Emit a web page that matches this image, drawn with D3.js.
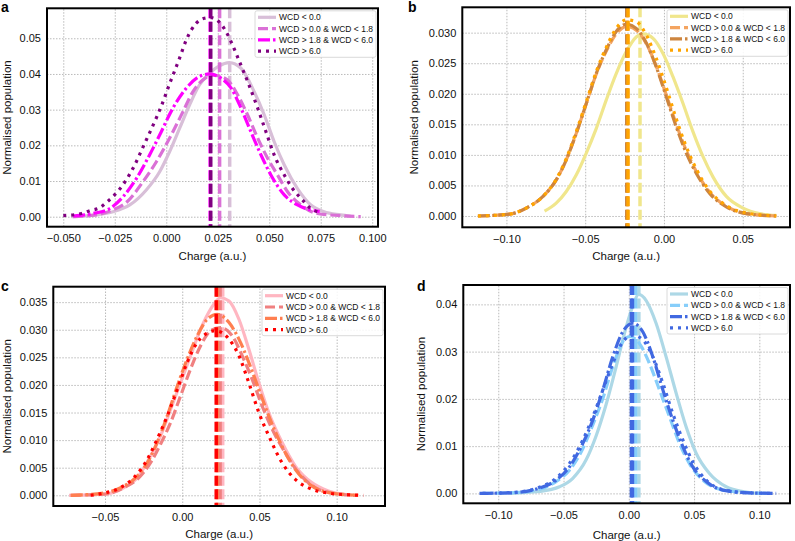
<!DOCTYPE html>
<html><head><meta charset="utf-8">
<script src="https://cdn.jsdelivr.net/npm/d3@7"></script>
<style>body{margin:0;background:#fff}svg{display:block;font-family:"Liberation Sans",Arial,Helvetica,sans-serif}</style>
</head><body><svg id="chart" width="795" height="541"></svg>
<script>
// ---------- DATA ----------
const seriesLabels = ["WCD < 0.0", "WCD > 0.0 & WCD < 1.8", "WCD > 1.8 & WCD < 6.0", "WCD > 6.0"];
const panelLetters = ["a", "b", "c", "d"];

// Panel a
const a_lt0 = [[-0.046,0],[-0.034,0.0005],[-0.0258,0.0014],[-0.0177,0.0033],[-0.0097,0.0075],[-0.0032,0.0126],[0.0016,0.0182],[0.0065,0.0248],[0.0113,0.0313],[0.0161,0.0369],[0.021,0.0402],[0.0255,0.0422],[0.0306,0.0432],[0.0363,0.0416],[0.0427,0.035],[0.0476,0.0285],[0.0524,0.021],[0.0573,0.0145],[0.0637,0.0079],[0.0702,0.0033],[0.0766,0.0014],[0.0847,0.0005],[0.0895,0.0001]];
const a_0to18 = [[-0.0452,0],[-0.034,0.0005],[-0.026,0.0019],[-0.019,0.0042],[-0.0113,0.0098],[-0.0048,0.0154],[0.0016,0.022],[0.0081,0.0294],[0.0129,0.035],[0.0177,0.0383],[0.0226,0.0397],[0.025,0.0395],[0.0298,0.0383],[0.0347,0.0341],[0.0395,0.0285],[0.0444,0.022],[0.0492,0.0164],[0.054,0.0117],[0.0589,0.007],[0.0653,0.0033],[0.0734,0.0009],[0.0847,0.0003],[0.0944,0]];
const a_18to6 = [[-0.0452,0.0002],[-0.0355,0.0009],[-0.0274,0.0023],[-0.021,0.0056],[-0.0145,0.0107],[-0.0081,0.0173],[-0.0032,0.0229],[0.0032,0.0304],[0.0097,0.036],[0.0161,0.0393],[0.021,0.04],[0.0266,0.0388],[0.0315,0.036],[0.0363,0.0304],[0.0411,0.0238],[0.046,0.0173],[0.0508,0.0117],[0.0573,0.0061],[0.0637,0.0033],[0.0702,0.0019],[0.0745,0.0015]];
const a_gt6 = [[-0.05,0.0003],[-0.0411,0.0009],[-0.037,0.0017],[-0.032,0.0026],[-0.029,0.004],[-0.024,0.0068],[-0.02,0.0098],[-0.0153,0.0145],[-0.0113,0.0195],[-0.0065,0.0255],[-0.0024,0.031],[0.0016,0.0372],[0.0065,0.0445],[0.0097,0.0495],[0.0145,0.0542],[0.0185,0.0556],[0.0218,0.0558],[0.029,0.0519],[0.0315,0.049],[0.0355,0.0435],[0.0395,0.0379],[0.0444,0.0304],[0.0484,0.0238],[0.0524,0.0173],[0.0573,0.0117],[0.0613,0.0079],[0.0661,0.0047],[0.0702,0.0023],[0.0745,0.0012]];
const a_means = [0.0308, 0.0259, 0.0213, 0.0216];
const a_xTicks = [-0.05, -0.025, 0, 0.025, 0.05, 0.075, 0.1];
const a_yTicks = [0, 0.01, 0.02, 0.03, 0.04, 0.05];

// Panel b
const b_lt0 = [[-0.0758,0.0008],[-0.0684,0.0021],[-0.062,0.004],[-0.0557,0.0067],[-0.0493,0.0103],[-0.043,0.0143],[-0.0366,0.019],[-0.0303,0.0233],[-0.0239,0.0269],[-0.0176,0.0293],[-0.0135,0.0298],[-0.007,0.0291],[-0.0006,0.0266],[0.0057,0.0228],[0.0121,0.0184],[0.0184,0.0138],[0.0248,0.0097],[0.0311,0.0064],[0.0396,0.0032],[0.0502,0.0013],[0.0607,0.0004],[0.0713,0.0001]];
const b_0to18 = [[-0.118,0],[-0.098,0.0003],[-0.0874,0.0013],[-0.0768,0.0032],[-0.0684,0.0059],[-0.062,0.0092],[-0.0557,0.0135],[-0.0493,0.0184],[-0.043,0.0232],[-0.0366,0.027],[-0.0303,0.0298],[-0.0239,0.031],[-0.0176,0.0304],[-0.0112,0.0282],[-0.0049,0.0245],[0.0015,0.0198],[0.0078,0.015],[0.0142,0.0107],[0.0205,0.0073],[0.029,0.0039],[0.0396,0.0016],[0.0523,0.0004],[0.0713,0]];
const b_18to6 = [[-0.1181,0],[-0.098,0.0003],[-0.0874,0.0013],[-0.0768,0.0032],[-0.0684,0.0059],[-0.062,0.0092],[-0.0557,0.0135],[-0.0493,0.0184],[-0.043,0.0233],[-0.0366,0.0272],[-0.0303,0.0302],[-0.0239,0.0314],[-0.0176,0.0307],[-0.0112,0.0283],[-0.0049,0.0244],[0.0015,0.0195],[0.0078,0.0146],[0.0142,0.0103],[0.0205,0.007],[0.029,0.0037],[0.0396,0.0015],[0.0523,0.0004],[0.0713,0]];
const b_gt6 = [[-0.1181,0],[-0.098,0.0003],[-0.0874,0.0013],[-0.0768,0.0032],[-0.0684,0.006],[-0.062,0.0094],[-0.0557,0.0138],[-0.0493,0.0187],[-0.043,0.0236],[-0.0366,0.0276],[-0.0303,0.0307],[-0.0239,0.0321],[-0.0176,0.0318],[-0.0112,0.0296],[-0.0049,0.0258],[0.0015,0.021],[0.0078,0.0159],[0.0142,0.0113],[0.0205,0.0077],[0.029,0.0041],[0.0396,0.0017],[0.0523,0.0005],[0.0713,0]];
const b_means = [-0.0152, -0.0232, -0.0236, -0.0228];
const b_xTicks = [-0.1, -0.05, 0, 0.05];
const b_yTicks = [0, 0.005, 0.01, 0.015, 0.02, 0.025, 0.03];

// Panel c
const c_lt0 = [[-0.0733,0],[-0.0506,0.0002],[-0.0377,0.0014],[-0.0291,0.0032],[-0.0205,0.0071],[-0.014,0.0108],[-0.0075,0.0156],[-0.0011,0.0204],[0.0054,0.0253],[0.0119,0.0301],[0.0183,0.0337],[0.0248,0.0358],[0.0303,0.0352],[0.0367,0.0319],[0.0431,0.0265],[0.0496,0.0204],[0.056,0.015],[0.0646,0.0096],[0.0732,0.0053],[0.0839,0.0023],[0.0946,0.0008],[0.1032,0.0002],[0.11,0]];
const c_0to18 = [[-0.0722,0],[-0.0506,0.0002],[-0.0377,0.0014],[-0.0291,0.0029],[-0.0205,0.0059],[-0.014,0.0093],[-0.0075,0.0132],[-0.0011,0.018],[0.0054,0.0229],[0.0119,0.0271],[0.0183,0.0298],[0.0248,0.0304],[0.0324,0.0289],[0.0388,0.0253],[0.0453,0.021],[0.0517,0.0162],[0.0582,0.012],[0.0667,0.0077],[0.0753,0.0041],[0.086,0.0014],[0.0968,0.0004],[0.1118,0]];
const c_18to6 = [[-0.0722,0],[-0.0506,0.0004],[-0.0399,0.0014],[-0.0313,0.0029],[-0.0226,0.0059],[-0.0162,0.0096],[-0.0097,0.0144],[-0.0032,0.0198],[0.0032,0.0247],[0.0097,0.0289],[0.0162,0.0319],[0.0226,0.0328],[0.0303,0.0313],[0.0367,0.0283],[0.0431,0.0241],[0.0496,0.0192],[0.056,0.0144],[0.0646,0.0089],[0.0732,0.0047],[0.0839,0.0017],[0.0946,0.0005],[0.1075,0.0001],[0.114,0]];
const c_gt6 = [[-0.0593,0],[-0.0506,0.0004],[-0.0399,0.0014],[-0.0313,0.0032],[-0.0226,0.0065],[-0.0162,0.0102],[-0.0097,0.0144],[-0.0032,0.0192],[0.0032,0.0241],[0.0097,0.0277],[0.0162,0.0294],[0.0205,0.0298],[0.0238,0.0297],[0.0303,0.0283],[0.0367,0.0253],[0.0431,0.0204],[0.0496,0.015],[0.056,0.0108],[0.0646,0.0059],[0.0732,0.0029],[0.0839,0.0011],[0.0946,0.0004],[0.1075,0.0001],[0.1172,0]];
const c_means = [0.0262, 0.0245, 0.0228, 0.022];
const c_xTicks = [-0.05, 0, 0.05, 0.1];
const c_yTicks = [0, 0.005, 0.01, 0.015, 0.02, 0.025, 0.03, 0.035];

// Panel d
const d_lt0 = [[-0.0914,0],[-0.0685,0.0004],[-0.0531,0.0014],[-0.0429,0.0032],[-0.0327,0.0071],[-0.025,0.0122],[-0.0174,0.0188],[-0.0097,0.0268],[-0.002,0.0352],[0.0031,0.0397],[0.0075,0.0421],[0.0133,0.0408],[0.0209,0.036],[0.0286,0.0289],[0.0363,0.0212],[0.0439,0.0141],[0.0516,0.0085],[0.0618,0.0042],[0.0746,0.0014],[0.0874,0.0004],[0.1001,0]];
const d_0to18 = [[-0.112,0],[-0.0914,0.0001],[-0.0685,0.0009],[-0.0557,0.0025],[-0.0455,0.0049],[-0.0352,0.0095],[-0.0276,0.0145],[-0.0199,0.0201],[-0.0123,0.0268],[-0.0046,0.0321],[0.0005,0.0332],[0.0082,0.0317],[0.0158,0.0275],[0.0235,0.0219],[0.0312,0.0162],[0.0388,0.0106],[0.0465,0.0063],[0.0567,0.0028],[0.0695,0.0009],[0.0874,0.0002],[0.1052,0]];
const d_18to6 = [[-0.1144,0],[-0.0914,0.0001],[-0.0685,0.0011],[-0.0557,0.0028],[-0.0455,0.0056],[-0.0352,0.0106],[-0.0276,0.0155],[-0.0199,0.0219],[-0.0123,0.0289],[-0.0046,0.0342],[0.0031,0.036],[0.0107,0.0342],[0.0184,0.0289],[0.0261,0.0219],[0.0337,0.0155],[0.0414,0.0099],[0.049,0.0056],[0.0593,0.0025],[0.072,0.0007],[0.0925,0.0001],[0.1129,0]];
const d_gt6 = [[-0.112,0],[-0.0889,0.0002],[-0.0685,0.0013],[-0.0557,0.0032],[-0.0455,0.0063],[-0.0352,0.0113],[-0.0276,0.0162],[-0.0199,0.0219],[-0.0123,0.0275],[-0.0046,0.0321],[0.0031,0.0335],[0.0107,0.0325],[0.0184,0.0289],[0.0261,0.0233],[0.0337,0.0169],[0.0414,0.0113],[0.049,0.0067],[0.0593,0.0028],[0.072,0.0008],[0.0925,0.0001],[0.1116,0]];
const d_means = [0.0077, 0.0052, 0.0028, 0.002];
const d_xTicks = [-0.1, -0.05, 0, 0.05, 0.1];
const d_yTicks = [0, 0.01, 0.02, 0.03, 0.04];

// ---------- STYLE / LAYOUT ----------
const colorsA = ["#d8bfd8", "#da70d6", "#ff00ff", "#800080"];
const colorsB = ["#f0e68c", "#f4a460", "#cd853f", "#ffa500"];
const colorsC = ["#ffb6c1", "#f08080", "#ff7f50", "#ff0000"];
const colorsD = ["#add8e6", "#87cefa", "#4169e1", "#4169e1"];
const dashes = [null, "10,4", "12,3,2.5,3", "3,5"];

const panels = [
  {series:[a_lt0,a_0to18,a_18to6,a_gt6], means:a_means, xt:a_xTicks, yt:a_yTicks, colors:colorsA,
   box:[47,378,8.3,226.7], xd:[-0.0579,0.1028], yd:[-0.0028,0.0584], xf:".3f", yf:".2f",
   letter:[1,12], ylab:6.5, xlab:256},
  {series:[b_lt0,b_0to18,b_18to6,b_gt6], means:b_means, xt:b_xTicks, yt:b_yTicks, colors:colorsB,
   box:[462.3,790,7.3,227.3], xd:[-0.128,0.080], yd:[-0.00185,0.03415], xf:".2f", yf:".3f",
   letter:[408,12], ylab:413.5, xlab:256},
  {series:[c_lt0,c_0to18,c_18to6,c_gt6], means:c_means, xt:c_xTicks, yt:c_yTicks, colors:colorsC,
   box:[53.3,385,286.7,506], xd:[-0.0835,0.1313], yd:[-0.00194,0.0378], xf:".2f", yf:".3f",
   letter:[1,291], ylab:6.5, xlab:533.5},
  {series:[d_lt0,d_0to18,d_18to6,d_gt6], means:d_means, xt:d_xTicks, yt:d_yTicks, colors:colorsD,
   box:[463.3,790,285,503.3], xd:[-0.1268,0.1235], yd:[-0.0021,0.0441], xf:".2f", yf:".2f",
   letter:[417,291], ylab:421, xlab:535}
];

const svg = d3.select("#chart");
svg.append("rect").attr("width",795).attr("height",541).attr("fill","#fff");

panels.forEach((p, pi) => {
  const [x0,x1,y0,y1] = p.box;
  const x = d3.scaleLinear().domain(p.xd).range([x0,x1]);
  const y = d3.scaleLinear().domain(p.yd).range([y1,y0]);
  const g = svg.append("g");

  g.append("rect").attr("x",x0).attr("y",y0).attr("width",x1-x0).attr("height",y1-y0).attr("fill","#fff");

  // grid
  const gx = g.append("g").attr("transform",`translate(0,${y1})`)
    .call(d3.axisBottom(x).tickValues(p.xt).tickSize(-(y1-y0)).tickFormat(""));
  const gy = g.append("g").attr("transform",`translate(${x0},0)`)
    .call(d3.axisLeft(y).tickValues(p.yt).tickSize(-(x1-x0)).tickFormat(""));
  [gx,gy].forEach(s => {
    s.select(".domain").remove();
    s.selectAll("line").attr("stroke","#a8a8a8").attr("stroke-width",0.8).attr("stroke-dasharray","1.5,1.5");
  });

  // tick labels
  const lx = g.append("g").attr("transform",`translate(0,${y1})`)
    .call(d3.axisBottom(x).tickValues(p.xt).tickSize(0).tickPadding(7.5).tickFormat(d3.format(p.xf)));
  const ly = g.append("g").attr("transform",`translate(${x0},0)`)
    .call(d3.axisLeft(y).tickValues(p.yt).tickSize(0).tickPadding(6).tickFormat(d3.format(p.yf)));
  [lx,ly].forEach(s => {
    s.select(".domain").remove();
    s.selectAll("text").attr("font-size",11).attr("fill","#111").attr("font-family","'Liberation Sans',Arial,sans-serif");
  });

  // clip
  const cid = "clip"+pi;
  svg.append("clipPath").attr("id",cid).append("rect")
    .attr("x",x0).attr("y",y0).attr("width",x1-x0).attr("height",y1-y0);
  const plot = g.append("g").attr("clip-path",`url(#${cid})`);

  const line = d3.line().x(d=>x(d[0])).y(d=>y(d[1])).curve(d3.curveMonotoneX);
  p.series.forEach((s, si) => {
    plot.append("path").datum(s).attr("d",line)
      .attr("fill","none").attr("stroke",p.colors[si]).attr("stroke-width",3.2)
      .attr("stroke-dasharray",dashes[si]);
    plot.append("line")
      .attr("x1",x(p.means[si])).attr("x2",x(p.means[si]))
      .attr("y1",y0).attr("y2",y1)
      .attr("stroke",p.colors[si]).attr("stroke-width",3.5).attr("stroke-dasharray","10,3.5");
  });

  // frame
  g.append("rect").attr("x",x0).attr("y",y0).attr("width",x1-x0).attr("height",y1-y0)
    .attr("fill","none").attr("stroke","#000").attr("stroke-width",2);

  // legend
  const lw = 121, lh = 46.5;
  const bx = x1 - 2 - lw, by = y0 + 2.5;
  const lg = g.append("g");
  lg.append("rect").attr("x",bx).attr("y",by).attr("width",lw).attr("height",lh).attr("rx",2)
    .attr("fill","#fff").attr("fill-opacity",0.85).attr("stroke","#d0d0d0").attr("stroke-width",0.8);
  seriesLabels.forEach((lab, i) => {
    const ry = by + 6.5 + i*11.3;
    lg.append("line").attr("x1",bx+3).attr("x2",bx+21).attr("y1",ry).attr("y2",ry)
      .attr("stroke",p.colors[i]).attr("stroke-width",3.2).attr("stroke-dasharray",dashes[i]);
    lg.append("text").attr("x",bx+24).attr("y",ry).attr("dy","0.35em")
      .attr("font-size",8.5).attr("fill","#111").text(lab);
  });

  // axis labels
  g.append("text").attr("x",(x0+x1)/2).attr("y",p.xlab).attr("dy","0.35em")
    .attr("text-anchor","middle").attr("font-size",11.5).attr("fill","#111").text("Charge (a.u.)");
  g.append("text").attr("transform",`translate(${p.ylab},${(y0+y1)/2}) rotate(-90)`)
    .attr("dy","0.35em").attr("text-anchor","middle").attr("font-size",11.5).attr("fill","#111")
    .text("Normalised population");

  // panel letter
  g.append("text").attr("x",p.letter[0]).attr("y",p.letter[1])
    .attr("font-size",14).attr("font-weight","bold").attr("fill","#000").text(panelLetters[pi]);
});
</script></body></html>
